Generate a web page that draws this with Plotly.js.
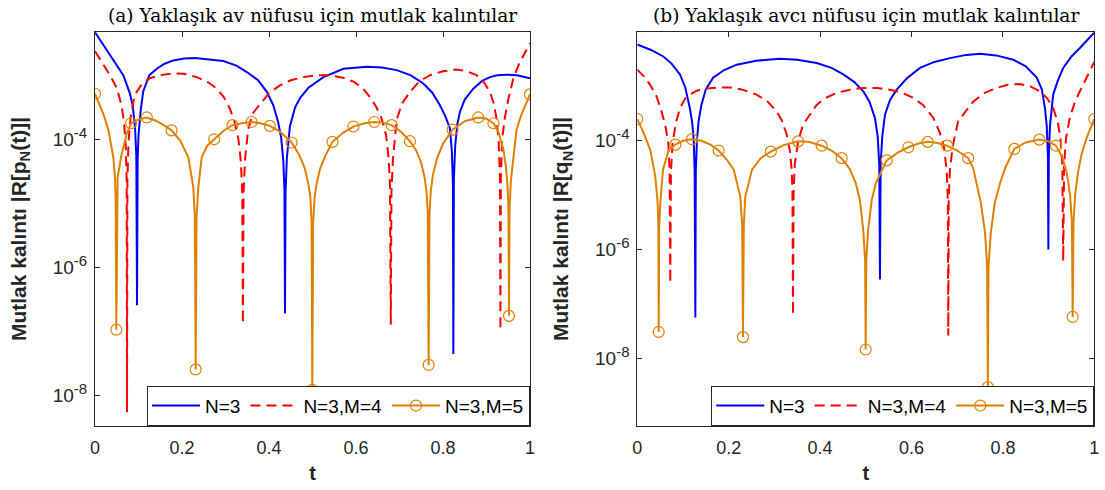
<!DOCTYPE html>
<html>
<head>
<meta charset="utf-8">
<script src="https://cdn.plot.ly/plotly-3.0.1.min.js"></script>
<style>html,body{margin:0;padding:0;background:#fff;}#chart{width:1105px;height:490px;}</style>
</head>
<body>
<div id="chart"></div>
<script>
// ---------- Data ----------
// Panel (a): prey population residuals
const tA_N3 = [0, 0.027, 0.045, 0.065, 0.08, 0.0866, 0.092, 0.095, 0.0966, 0.098, 0.1, 0.105, 0.111, 0.125, 0.142, 0.16, 0.18, 0.205, 0.23, 0.26, 0.295, 0.325, 0.349, 0.375, 0.395, 0.41, 0.421, 0.428, 0.433, 0.4355, 0.4368, 0.438, 0.441, 0.448, 0.46, 0.471, 0.49, 0.525, 0.571, 0.6245, 0.66, 0.6935, 0.725, 0.7548, 0.775, 0.793, 0.806, 0.816, 0.8205, 0.8228, 0.8238, 0.825, 0.828, 0.833, 0.839, 0.85, 0.8697, 0.89, 0.908, 0.925, 0.946, 0.97, 0.985, 1.0];
const rA_N3 = [4.68e-3, 2.51e-3, 1.66e-3, 1.00e-3, 5.25e-4, 3.39e-4, 1.55e-4, 5.37e-5, 2.57e-7, 4.79e-5, 1.15e-4, 2.82e-4, 5.62e-4, 1.00e-3, 1.26e-3, 1.51e-3, 1.70e-3, 1.82e-3, 1.86e-3, 1.78e-3, 1.66e-3, 1.41e-3, 1.12e-3, 8.32e-4, 5.50e-4, 3.39e-4, 1.86e-4, 1.05e-4, 4.57e-5, 1.55e-5, 1.91e-7, 1.45e-5, 5.01e-5, 1.58e-4, 3.16e-4, 4.37e-4, 6.31e-4, 9.33e-4, 1.26e-3, 1.35e-3, 1.32e-3, 1.20e-3, 1.00e-3, 7.41e-4, 5.37e-4, 3.39e-4, 2.24e-4, 1.48e-4, 6.31e-5, 1.91e-5, 4.47e-8, 2.29e-5, 7.94e-5, 1.74e-4, 2.69e-4, 4.17e-4, 6.17e-4, 8.13e-4, 9.33e-4, 1.00e-3, 1.02e-3, 1.00e-3, 9.55e-4, 8.91e-4];

const tA_N3M4 = [0, 0.0345, 0.05, 0.061, 0.067, 0.071, 0.0728, 0.0736, 0.0745, 0.077, 0.082, 0.0885, 0.0958, 0.11, 0.126, 0.15, 0.18, 0.205, 0.234, 0.26, 0.28, 0.296, 0.31, 0.3205, 0.3295, 0.3355, 0.3385, 0.34, 0.3415, 0.345, 0.352, 0.362, 0.379, 0.4, 0.425, 0.45, 0.479, 0.51, 0.54, 0.57, 0.594, 0.615, 0.632, 0.647, 0.659, 0.669, 0.675, 0.678, 0.68, 0.6815, 0.685, 0.6935, 0.705, 0.724, 0.745, 0.77, 0.8, 0.831, 0.855, 0.877, 0.895, 0.908, 0.917, 0.923, 0.928, 0.931, 0.932, 0.933, 0.936, 0.9425, 0.95, 0.9617, 0.975, 0.987, 0.996, 1.0];
const rA_N3M4 = [2.37e-3, 1.00e-3, 6.31e-4, 3.39e-4, 1.78e-4, 6.92e-5, 2.14e-5, 5.50e-9, 2.40e-5, 9.12e-5, 2.24e-4, 3.98e-4, 5.50e-4, 7.59e-4, 8.91e-4, 1.00e-3, 1.07e-3, 1.05e-3, 9.33e-4, 7.76e-4, 6.17e-4, 4.57e-4, 3.02e-4, 1.91e-4, 1.02e-4, 4.37e-5, 1.48e-5, 1.32e-7, 1.48e-5, 5.01e-5, 1.41e-4, 2.51e-4, 3.55e-4, 5.25e-4, 6.92e-4, 8.32e-4, 9.33e-4, 1.00e-3, 1.00e-3, 9.12e-4, 7.94e-4, 6.31e-4, 4.57e-4, 3.16e-4, 2.09e-4, 1.17e-4, 5.01e-5, 2.00e-5, 1.29e-7, 1.51e-5, 5.01e-5, 2.00e-4, 3.55e-4, 5.50e-4, 7.94e-4, 1.00e-3, 1.15e-3, 1.23e-3, 1.15e-3, 1.00e-3, 7.59e-4, 5.50e-4, 3.55e-4, 2.09e-4, 9.33e-5, 2.34e-5, 1.05e-7, 2.51e-5, 1.00e-4, 2.24e-4, 4.17e-4, 8.91e-4, 1.51e-3, 2.19e-3, 2.88e-3, 3.16e-3];

const tA_N3M5 = [0, 0.01, 0.02, 0.031, 0.0421, 0.046, 0.0475, 0.049, 0.0505, 0.052, 0.0598, 0.0728, 0.083, 0.1, 0.119, 0.14, 0.158, 0.176, 0.196, 0.2145, 0.226, 0.2295, 0.2314, 0.2335, 0.2375, 0.2453, 0.258, 0.274, 0.295, 0.316, 0.34, 0.36, 0.38, 0.402, 0.425, 0.452, 0.47, 0.482, 0.49, 0.495, 0.498, 0.4996, 0.5015, 0.505, 0.51, 0.518, 0.53, 0.546, 0.57, 0.594, 0.62, 0.642, 0.662, 0.682, 0.703, 0.724, 0.738, 0.749, 0.757, 0.762, 0.765, 0.767, 0.769, 0.772, 0.777, 0.786, 0.8, 0.822, 0.85, 0.881, 0.9, 0.916, 0.928, 0.9387, 0.945, 0.949, 0.9505, 0.9517, 0.953, 0.956, 0.961, 0.969, 0.98, 0.99, 1.0];
const rA_N3M5 = [5.13e-4, 3.55e-4, 2.40e-4, 1.38e-4, 5.25e-5, 2.51e-5, 1.12e-5, 1.07e-7, 1.12e-5, 2.51e-5, 5.25e-5, 1.23e-4, 1.78e-4, 2.04e-4, 2.19e-4, 1.95e-4, 1.66e-4, 1.38e-4, 9.55e-5, 5.25e-5, 1.78e-5, 6.31e-6, 2.57e-8, 6.31e-6, 1.78e-5, 5.25e-5, 7.94e-5, 1.00e-4, 1.35e-4, 1.66e-4, 1.80e-4, 1.86e-4, 1.78e-4, 1.62e-4, 1.32e-4, 8.91e-5, 5.62e-5, 3.55e-5, 2.09e-5, 1.26e-5, 5.01e-6, 1.23e-8, 5.01e-6, 1.26e-5, 2.14e-5, 3.55e-5, 5.62e-5, 9.12e-5, 1.26e-4, 1.58e-4, 1.78e-4, 1.86e-4, 1.82e-4, 1.66e-4, 1.32e-4, 9.33e-5, 6.76e-5, 4.47e-5, 2.69e-5, 1.58e-5, 7.08e-6, 3.02e-8, 7.08e-6, 1.58e-5, 2.82e-5, 5.01e-5, 8.51e-5, 1.41e-4, 1.91e-4, 2.19e-4, 2.09e-4, 1.78e-4, 1.26e-4, 7.08e-5, 3.55e-5, 1.58e-5, 6.31e-6, 1.76e-7, 7.94e-6, 2.24e-5, 5.01e-5, 1.41e-4, 2.40e-4, 3.55e-4, 5.01e-4];
// circle markers of the N=3,M=5 series
const tA_mk = [0, 0.049, 0.083, 0.119, 0.176, 0.2314, 0.274, 0.316, 0.36, 0.402, 0.452, 0.4996, 0.546, 0.594, 0.642, 0.682, 0.724, 0.767, 0.822, 0.881, 0.916, 0.9517, 1.0];
const rA_mk = [5.13e-4, 1.07e-7, 1.78e-4, 2.19e-4, 1.38e-4, 2.57e-8, 1.00e-4, 1.66e-4, 1.86e-4, 1.62e-4, 8.91e-5, 1.23e-8, 9.12e-5, 1.58e-4, 1.86e-4, 1.66e-4, 9.33e-5, 3.02e-8, 1.41e-4, 2.19e-4, 1.78e-4, 1.76e-7, 5.01e-4];

// Panel (b): predator population residuals
const tB_N3 = [0, 0.03, 0.057, 0.075, 0.0934, 0.105, 0.115, 0.12, 0.1235, 0.1255, 0.127, 0.128, 0.1305, 0.134, 0.14, 0.15, 0.166, 0.19, 0.2175, 0.26, 0.312, 0.35, 0.3925, 0.425, 0.4508, 0.475, 0.4945, 0.508, 0.52, 0.526, 0.5295, 0.531, 0.5325, 0.536, 0.542, 0.553, 0.5676, 0.59, 0.6186, 0.65, 0.684, 0.72, 0.75, 0.785, 0.823, 0.85, 0.874, 0.885, 0.892, 0.896, 0.8985, 0.8995, 0.9005, 0.903, 0.91, 0.92, 0.932, 0.95, 0.969, 0.985, 1.0];
const rB_N3 = [5.89e-3, 4.68e-3, 3.55e-3, 2.63e-3, 1.66e-3, 9.55e-4, 3.98e-4, 2.24e-4, 1.00e-4, 2.82e-5, 5.62e-8, 2.82e-5, 1.00e-4, 2.24e-4, 4.47e-4, 8.91e-4, 1.45e-3, 2.00e-3, 2.51e-3, 2.95e-3, 3.24e-3, 3.09e-3, 2.69e-3, 2.19e-3, 1.66e-3, 1.20e-3, 8.13e-4, 5.25e-4, 2.63e-4, 1.20e-4, 3.63e-5, 2.82e-7, 3.63e-5, 1.20e-4, 3.02e-4, 5.62e-4, 8.71e-4, 1.41e-3, 2.19e-3, 2.82e-3, 3.31e-3, 3.80e-3, 3.98e-3, 3.72e-3, 3.09e-3, 2.34e-3, 1.45e-3, 8.91e-4, 3.98e-4, 1.86e-4, 5.37e-5, 1.00e-6, 5.37e-5, 1.86e-4, 7.08e-4, 1.26e-3, 2.19e-3, 3.55e-3, 5.13e-3, 7.08e-3, 9.77e-3];

const tB_N3M4 = [0, 0.015, 0.028, 0.042, 0.053, 0.062, 0.068, 0.0708, 0.0722, 0.0736, 0.077, 0.084, 0.0934, 0.105, 0.115, 0.13, 0.152, 0.18, 0.203, 0.23, 0.261, 0.285, 0.305, 0.317, 0.327, 0.334, 0.338, 0.3395, 0.3407, 0.342, 0.3445, 0.352, 0.363, 0.3925, 0.41, 0.436, 0.465, 0.4945, 0.525, 0.553, 0.58, 0.604, 0.625, 0.648, 0.662, 0.671, 0.677, 0.6795, 0.6805, 0.6815, 0.684, 0.69, 0.702, 0.735, 0.76, 0.786, 0.81, 0.837, 0.86, 0.881, 0.897, 0.91, 0.92, 0.926, 0.93, 0.932, 0.934, 0.938, 0.9463, 0.957, 0.9685, 0.982, 0.9943, 1.0];
const rB_N3M4 = [2.04e-3, 1.51e-3, 1.07e-3, 6.61e-4, 3.47e-4, 1.78e-4, 8.71e-5, 2.63e-5, 2.40e-7, 2.63e-5, 8.71e-5, 2.09e-4, 3.98e-4, 6.03e-4, 7.08e-4, 8.32e-4, 9.12e-4, 9.55e-4, 9.55e-4, 8.71e-4, 7.08e-4, 5.25e-4, 3.47e-4, 2.29e-4, 1.29e-4, 6.46e-5, 2.75e-5, 1.10e-5, 6.17e-8, 1.10e-5, 3.63e-5, 1.00e-4, 2.00e-4, 4.57e-4, 6.03e-4, 7.59e-4, 8.71e-4, 9.33e-4, 9.33e-4, 8.71e-4, 7.59e-4, 6.17e-4, 4.57e-4, 2.63e-4, 1.41e-4, 7.76e-5, 2.82e-5, 8.13e-6, 2.63e-8, 8.13e-6, 2.82e-5, 7.76e-5, 2.29e-4, 5.25e-4, 7.59e-4, 9.33e-4, 1.07e-3, 1.11e-3, 1.00e-3, 8.13e-4, 6.03e-4, 3.98e-4, 2.24e-4, 1.10e-4, 3.63e-5, 6.17e-7, 3.63e-5, 1.10e-4, 2.63e-4, 5.01e-4, 8.13e-4, 1.41e-3, 2.34e-3, 2.82e-3];

const tB_N3M5 = [0, 0.014, 0.0285, 0.0394, 0.0446, 0.0462, 0.0468, 0.0478, 0.0503, 0.0562, 0.0687, 0.0832, 0.1, 0.1197, 0.14, 0.16, 0.178, 0.196, 0.211, 0.2254, 0.2295, 0.2313, 0.233, 0.2363, 0.251, 0.27, 0.292, 0.32, 0.352, 0.375, 0.4035, 0.425, 0.447, 0.465, 0.478, 0.487, 0.4945, 0.4985, 0.4997, 0.501, 0.505, 0.513, 0.522, 0.531, 0.5457, 0.57, 0.593, 0.615, 0.6355, 0.657, 0.678, 0.7, 0.724, 0.735, 0.7427, 0.752, 0.761, 0.7655, 0.767, 0.7685, 0.7735, 0.782, 0.7937, 0.805, 0.825, 0.85, 0.8797, 0.9, 0.9162, 0.93, 0.94, 0.947, 0.951, 0.9527, 0.9545, 0.958, 0.964, 0.972, 0.983, 0.992, 1.0];
const rB_N3M5 = [2.51e-4, 1.38e-4, 6.76e-5, 2.19e-5, 7.08e-6, 2.51e-6, 3.05e-8, 2.51e-6, 7.08e-6, 2.95e-5, 6.76e-5, 8.51e-5, 1.00e-4, 1.07e-4, 1.00e-4, 8.51e-5, 6.61e-5, 4.47e-5, 2.95e-5, 9.33e-6, 2.82e-6, 2.45e-8, 2.82e-6, 9.33e-6, 2.95e-5, 4.79e-5, 6.31e-5, 8.32e-5, 9.77e-5, 9.55e-5, 8.13e-5, 6.61e-5, 4.79e-5, 3.02e-5, 1.66e-5, 8.13e-6, 2.24e-6, 6.31e-7, 1.45e-8, 6.31e-7, 2.24e-6, 8.13e-6, 1.66e-5, 2.40e-5, 4.37e-5, 6.03e-5, 7.59e-5, 8.91e-5, 9.55e-5, 9.12e-5, 8.13e-5, 6.61e-5, 4.79e-5, 3.16e-5, 1.66e-5, 7.08e-6, 2.00e-6, 5.01e-7, 2.95e-9, 5.01e-7, 2.00e-6, 7.08e-6, 1.66e-5, 3.16e-5, 7.08e-5, 9.33e-5, 1.05e-4, 9.77e-5, 8.13e-5, 5.01e-5, 2.51e-5, 1.00e-5, 3.16e-6, 5.75e-8, 3.16e-6, 1.00e-5, 2.51e-5, 5.62e-5, 1.12e-4, 1.66e-4, 2.51e-4];
const tB_mk = [0, 0.0468, 0.0832, 0.1197, 0.178, 0.2313, 0.292, 0.352, 0.4035, 0.447, 0.4997, 0.5457, 0.593, 0.6355, 0.678, 0.724, 0.767, 0.825, 0.8797, 0.9162, 0.9527, 1.0];
const rB_mk = [2.51e-4, 3.05e-8, 8.51e-5, 1.07e-4, 6.61e-5, 2.45e-8, 6.31e-5, 9.77e-5, 8.13e-5, 4.79e-5, 1.45e-8, 4.37e-5, 7.59e-5, 9.55e-5, 8.13e-5, 4.79e-5, 2.95e-9, 7.08e-5, 1.05e-4, 8.13e-5, 5.75e-8, 2.51e-4];

// Labels and ticks
const seriesNames = ["N=3", "N=3,M=4", "N=3,M=5"];
const xTickVals = [0, 0.2, 0.4, 0.6, 0.8, 1];
const xTickText = ["0", "0.2", "0.4", "0.6", "0.8", "1"];
const yTickVals = [1e-8, 1e-6, 1e-4];
const yTickExp = ["-8", "-6", "-4"];
const titleA = "(a) Yaklaşık av nüfusu için mutlak kalıntılar";
const titleB = "(b) Yaklaşık avcı nüfusu için mutlak kalıntılar";
const yTitleA = "Mutlak kalıntı |R[p<sub>N</sub>(t)]|";
const yTitleB = "Mutlak kalıntı |R[q<sub>N</sub>(t)]|";
const xTitle = "t";

// ---------- Styling ----------
const BLUE = "#0000FF", RED = "#FF0000", ORANGE = "#E08000";
const SANS = "Liberation Sans, Arial, sans-serif";
const SERIF = "DejaVu Serif, Liberation Serif, serif";
const AX = "#262626";
const LW = 2;
const yTickText = yTickExp.map(e => "10<sup><span style=\"font-size:15px\">" + e + "</span></sup>");

function panel(tN3, rN3, tM4, rM4, tM5, rM5, tMk, rMk, xa, ya, lg) {
  return [
    {x: tN3, y: rN3, xaxis: xa, yaxis: ya, legend: lg, name: seriesNames[0], mode: "lines",
     line: {color: BLUE, width: LW}},
    {x: tM4, y: rM4, xaxis: xa, yaxis: ya, legend: lg, name: seriesNames[1], mode: "lines",
     line: {color: RED, width: LW, dash: "10px,6px"}},
    {x: tM5, y: rM5, xaxis: xa, yaxis: ya, legend: lg, name: seriesNames[2], mode: "lines",
     line: {color: ORANGE, width: LW}, showlegend: false, legendgroup: "m5" + lg},
    {x: tMk, y: rMk, xaxis: xa, yaxis: ya, legend: lg, name: seriesNames[2], mode: "markers",
     marker: {symbol: "circle-open", size: 11, color: ORANGE, line: {width: 1.2, color: ORANGE}},
     showlegend: false, legendgroup: "m5" + lg},
    {x: [null], y: [null], xaxis: xa, yaxis: ya, legend: lg, name: seriesNames[2], mode: "lines+markers",
     line: {color: ORANGE, width: LW}, legendgroup: "m5" + lg,
     marker: {symbol: "circle-open", size: 11, color: ORANGE, line: {width: 1.2, color: ORANGE}}}
  ];
}

const data = [].concat(
  panel(tA_N3, rA_N3, tA_N3M4, rA_N3M4, tA_N3M5, rA_N3M5, tA_mk, rA_mk, "x", "y", "legend"),
  panel(tB_N3, rB_N3, tB_N3M4, rB_N3M4, tB_N3M5, rB_N3M5, tB_mk, rB_mk, "x2", "y2", "legend2")
);

const W = 1105, H = 490;
const dAx = [95 / W, 530 / W];
const dBx = [637.3 / W, 1094.3 / W];
const dY = [1 - 425.7 / H, 1 - 32.3 / H];

function xaxis(domain, anchor) {
  return {domain: domain, anchor: anchor, range: [0, 1], tickvals: xTickVals, ticktext: xTickText,
    ticks: "inside", ticklen: 5, tickwidth: 1, tickcolor: AX, showline: true, linecolor: AX, linewidth: 1,
    mirror: "ticks", showgrid: false, zeroline: false, automargin: false, ticklabelstandoff: 6,
    tickfont: {family: SANS, size: 18, color: AX},
    title: {text: xTitle, font: {family: SANS, size: 20, color: AX, weight: "bold"}, standoff: 8}};
}
function yaxis(domain, anchor, range, title) {
  return {domain: domain, anchor: anchor, type: "log", range: range, tickvals: yTickVals, ticktext: yTickText,
    ticks: "inside", ticklen: 5, tickwidth: 1, tickcolor: AX, showline: true, linecolor: AX, linewidth: 1,
    mirror: "ticks", showgrid: false, zeroline: false, automargin: false, ticklabelstandoff: 3,
    tickfont: {family: SANS, size: 19, color: AX},
    title: {text: title, font: {family: SANS, size: 21, color: AX, weight: "bold"}, standoff: 20}};
}
function legend(xr) {
  return {orientation: "h", x: xr, xanchor: "right", y: dY[0], yanchor: "bottom",
    bgcolor: "#FFFFFF", bordercolor: AX, borderwidth: 1,
    font: {family: SANS, size: 19, color: "#000"}, itemwidth: 48, tracegroupgap: 0};
}

const layout = {
  width: W, height: H, margin: {l: 0, r: 0, t: 0, b: 0},
  paper_bgcolor: "#FFFFFF", plot_bgcolor: "#FFFFFF", showlegend: true,
  xaxis: xaxis(dAx, "y"), yaxis: yaxis(dY, "x", [-8.468, -2.331], yTitleA),
  xaxis2: xaxis(dBx, "y2"), yaxis2: yaxis(dY, "x2", [-9.24, -2.005], yTitleB),
  legend: legend(dAx[1]), legend2: legend(dBx[1]),
  annotations: [
    {text: titleA, xref: "paper", yref: "paper", x: (dAx[0] + dAx[1]) / 2, y: 1 - 16 / H,
     xanchor: "center", yanchor: "middle", showarrow: false, font: {family: SERIF, size: 18.6, color: "#000"}},
    {text: titleB, xref: "paper", yref: "paper", x: (dBx[0] + dBx[1]) / 2, y: 1 - 16 / H,
     xanchor: "center", yanchor: "middle", showarrow: false, font: {family: SERIF, size: 18.6, color: "#000"}}
  ]
};

Plotly.newPlot("chart", data, layout, {displayModeBar: false, staticPlot: true});
</script>
</body>
</html>
